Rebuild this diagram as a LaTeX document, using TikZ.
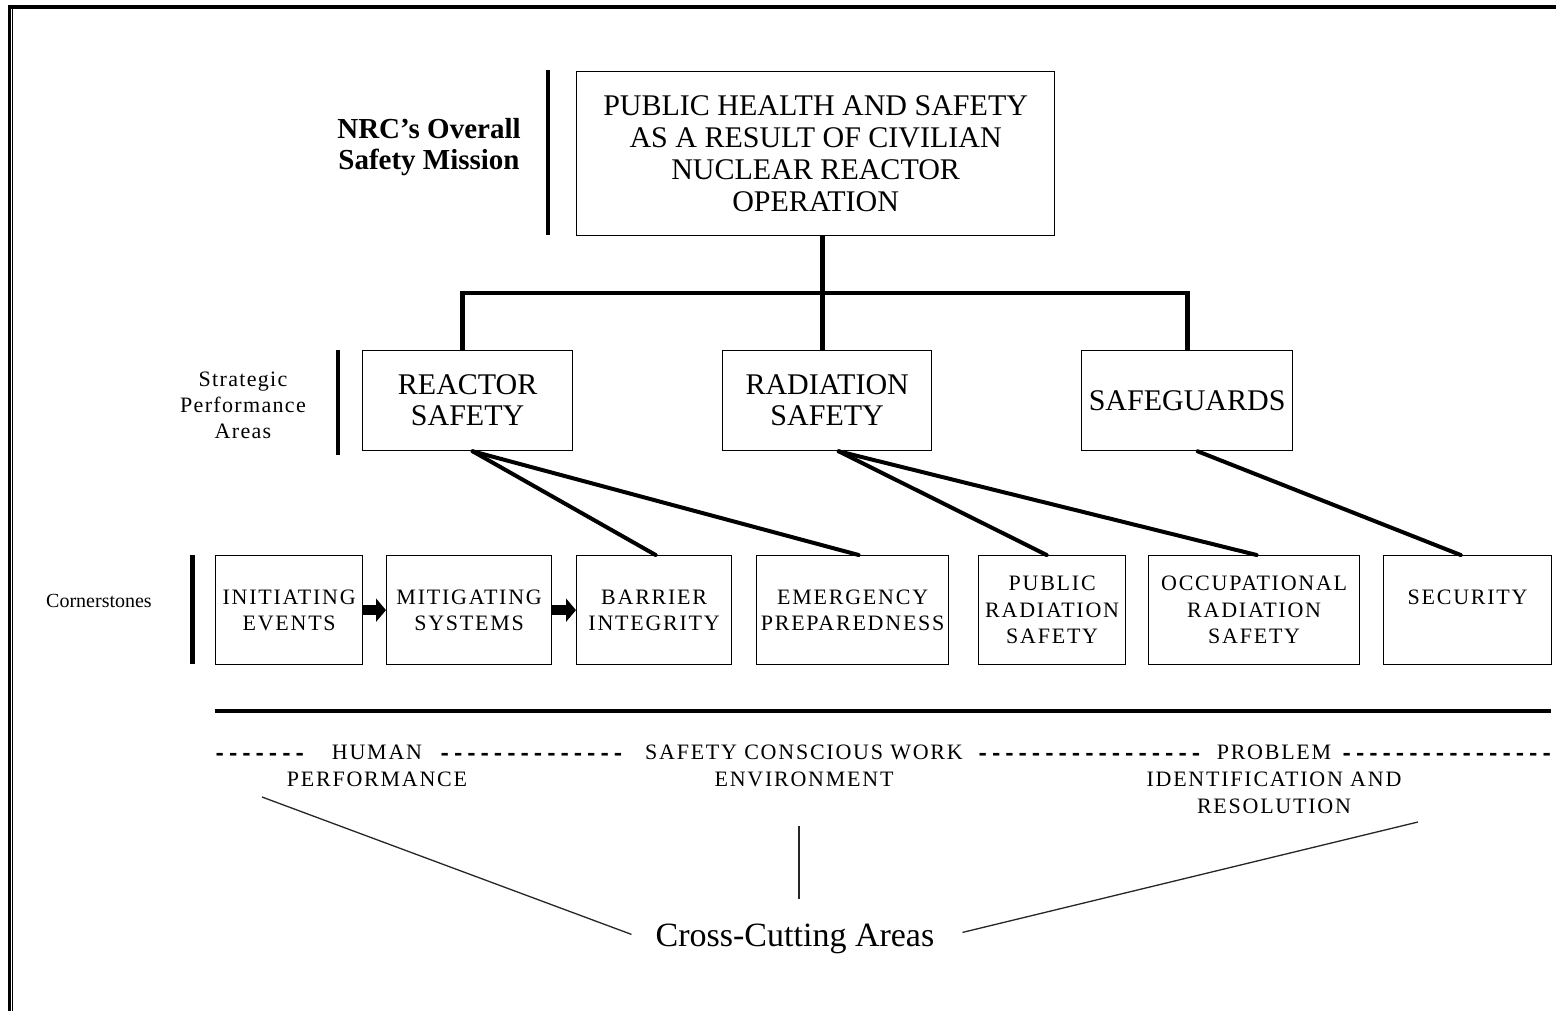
\documentclass[tikz,border=0pt]{standalone}
\usepackage{fontspec}
\setmainfont{Liberation Serif}
\newfontfamily\capsf{Liberation Serif}[LetterSpace=8]
\newfontfamily\labf{Liberation Serif}[LetterSpace=6]
\newfontfamily\dashf{Liberation Mono}
\usetikzlibrary{arrows.meta}
\tikzset{
  boxline/.style={draw, line width=1.3pt, inner sep=0pt, align=center},
  topbox/.style={boxline, anchor=north west, font=\fontsize{30}{32}\selectfont},
  areabox/.style={boxline, anchor=north west, minimum height=100pt, font=\fontsize{30}{31}\selectfont},
  cornerbox/.style={boxline, anchor=north west, minimum height=109pt, font=\capsf\fontsize{22}{26.5}\selectfont},
  tree/.style={line width=4.5pt, line join=miter},
  diag/.style={line width=4pt, line cap=round},
  sidebar/.style={line width=4.5pt},
  blockarrow/.style={line width=10pt, -{Triangle[length=10pt,width=23pt]}},
  lowtxt/.style={inner sep=0pt, align=center, anchor=north, font=\capsf\fontsize{22}{27}\selectfont},
  dashtxt/.style={inner sep=0pt, anchor=base west, font=\dashf\bfseries\fontsize{22.2}{22.2}\selectfont},
  thinline/.style={line width=1.3pt, black!85},
}
\begin{document}
\begin{tikzpicture}[x=1pt,y=-1pt]
\fill[white] (0,0) rectangle (1556,1011);
\useasboundingbox (0,0) rectangle (1556,1011);
% frame
\draw[line width=3.5pt] (9.5,5) -- (9.5,1011);
\draw[line width=1.1pt] (12.8,9) -- (12.8,1011);
\draw[line width=4pt] (7.75,7) -- (1556,7);

% mission level
\node[topbox, minimum width=478pt, minimum height=164pt] (top) at (576,71)
  {PUBLIC HEALTH AND SAFETY\\AS A RESULT OF CIVILIAN\\NUCLEAR REACTOR\\OPERATION};
\node[font=\bfseries\fontsize{29}{31}\selectfont, align=center, inner sep=0pt] (mission) at (429,147)
  {NRC’s Overall\\Safety Mission};
\draw[sidebar] (548,70) -- (548,235);

% strategic performance areas
\node[areabox, minimum width=210pt] (rs) at (362,350) {REACTOR\\SAFETY};
\node[areabox, minimum width=209pt] (rad) at (722,350) {RADIATION\\SAFETY};
\node[areabox, minimum width=211pt] (sg) at (1081,350) {SAFEGUARDS};
\node[font=\labf\fontsize{22}{26}\selectfont, align=center, inner sep=0pt] (spa) at (243,405)
  {Strategic\\Performance\\Areas};
\draw[sidebar] (338,350) -- (338,455);

% tree
\draw[tree] ([xshift=7pt]top.south) -- ([xshift=-4.5pt]rad.north);
\draw[tree] ([xshift=-5pt]rs.north) -- ++(0,-57) -| ([xshift=0.5pt]sg.north);

% cornerstones
\node[cornerbox, minimum width=147pt] (ie) at (215,555) {INITIATING\\EVENTS};
\node[cornerbox, minimum width=165pt] (ms) at (386,555) {MITIGATING\\SYSTEMS};
\node[cornerbox, minimum width=155pt] (bi) at (576,555) {BARRIER\\INTEGRITY};
\node[cornerbox, minimum width=192pt] (ep) at (756,555) {EMERGENCY\\PREPAREDNESS};
\node[cornerbox, minimum width=147pt] (prs) at (978,555) {PUBLIC\\RADIATION\\SAFETY};
\node[cornerbox, minimum width=211pt] (ors) at (1148,555) {OCCUPATIONAL\\RADIATION\\SAFETY};
\node[cornerbox, minimum width=168pt] (sec) at (1383,555) {SECURITY\\\phantom{X}};
\node[font=\fontsize{20}{24}\selectfont, inner sep=0pt] (cs) at (99,601) {Cornerstones};
\draw[line width=5pt] (192,555) -- (192,664);

\draw[blockarrow] (ie.east) -- (ms.west);
\draw[blockarrow] (ms.east) -- (bi.west);

% diagonals
\draw[diag] ([xshift=5pt]rs.south) -- ([xshift=1.5pt]bi.north);
\draw[diag] ([xshift=5pt]rs.south) -- ([xshift=6pt]ep.north);
\draw[diag] ([xshift=11.5pt]rad.south) -- ([xshift=-5.5pt]prs.north);
\draw[diag] ([xshift=11.5pt]rad.south) -- ([xshift=2.5pt]ors.north);
\draw[diag] ([xshift=10.5pt]sg.south) -- ([xshift=-7pt]sec.north);

% separator
\draw[line width=4pt] (215,711) -- (1551,711);

% cross-cutting labels
\node[dashtxt] (d1) at (213,760) {-------};
\node[lowtxt] (hum) at (377,745) {HUMAN\\PERFORMANCE};
\node[dashtxt] (d2) at (438,760) {--------------};
\node[lowtxt] (scw) at (804,745) {SAFETY CONSCIOUS WORK\\ENVIRONMENT};
\node[dashtxt] (d3) at (976,760) {-----------------};
\node[lowtxt] (pir) at (1274,745) {PROBLEM\\IDENTIFICATION AND\\RESOLUTION};
\node[dashtxt] (d4) at (1340,760) {----------------};

\node[font=\fontsize{34}{36}\selectfont, inner xsep=24pt, inner ysep=24.5pt, anchor=base] (cc) at (795,946)
  {Cross-Cutting Areas};
\coordinate (hpend) at (262,797);
\coordinate (scend) at (799,826);
\coordinate (piend) at (1418,822);
\draw[thinline] (hpend) -- ([yshift=4pt]cc.west);
\draw[thinline] (scend) -- ([xshift=4pt]cc.north);
\draw[thinline] (piend) -- ([xshift=4pt,yshift=6pt]cc.east);
\end{tikzpicture}
\end{document}
